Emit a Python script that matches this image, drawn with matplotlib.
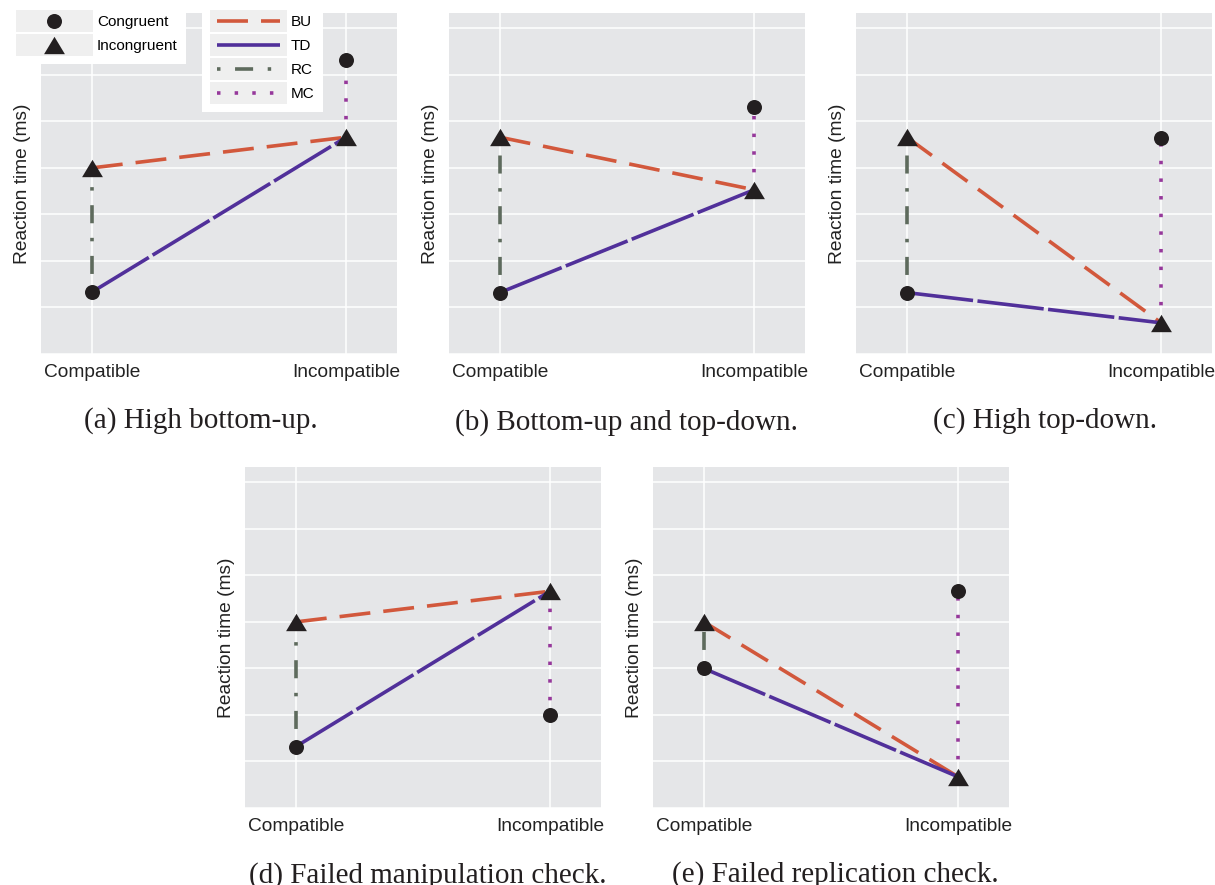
import numpy as np
import matplotlib
matplotlib.use('Agg')
import matplotlib.pyplot as plt
from matplotlib.lines import Line2D
from matplotlib.patches import Rectangle
from matplotlib.legend_handler import HandlerBase

plt.rcParams['font.family'] = ['Liberation Sans', 'DejaVu Sans']
plt.rcParams['lines.scale_dashes'] = False

# x categories
conditions = ['Compatible', 'Incompatible']
captions = ['(a) High bottom-up.', '(b) Bottom-up and top-down.', '(c) High top-down.',
            '(d) Failed manipulation check.', '(e) Failed replication check.']

# reaction times (arbitrary units), [compatible, incompatible]
congruent_rt = [[1.33, 6.31], [1.32, 5.32], [1.32, 4.65], [1.32, 2.00], [3.00, 4.66]]
incongruent_rt = [[4.00, 4.66], [4.66, 3.53], [4.66, 0.67], [4.00, 4.66], [4.00, 0.67]]

W, H = 1215, 885
BG = '#E5E6E8'
CELL = '#EFEFEF'
INK = '#231F20'
BU_C, TD_C, RC_C, MC_C = '#D2583C', '#51309A', '#5E6B5D', '#96389B'
LW = 2.6
BU_D = (22.3, 9.4)
TD_D = (48, 3.2)
RC_D = (2.5, 10.5, 13, 10.5)
MC_D = (2.5, 10.2)
TRI = [(-1.2, -1), (1.2, -1), (0, 1)]

fig = plt.figure(figsize=(W / 100, H / 100), dpi=100)

# axes boxes in pixels: left, top
boxes = [(41, 13), (449, 13), (856, 13), (245, 467), (653, 467)]
AW, AH = 356, 341
cap_pos = [(201, 421), (626, 423), (1045, 421), (428, 876), (835, 875)]

for i, (l, t) in enumerate(boxes):
    ax = fig.add_axes([l / W, 1 - (t + AH) / H, AW / W, AH / H])
    ax.set_facecolor(BG)
    for s in ax.spines.values():
        s.set_visible(False)
    cong = congruent_rt[i]
    inc = incongruent_rt[i]
    ax.plot([0, 1], [inc[0], inc[1]], color=BU_C, lw=LW, dashes=BU_D, zorder=2)
    ax.plot([0, 1], [cong[0], inc[1]], color=TD_C, lw=LW, dashes=TD_D, zorder=2)
    ax.plot([0, 0], [cong[0], inc[0]], color=RC_C, lw=LW, dashes=RC_D, zorder=2)
    ax.plot([1, 1], [inc[1], cong[1]], color=MC_C, lw=LW, dashes=MC_D, zorder=2)
    ax.plot([0, 1], cong, ls='none', marker='o', ms=10.8, mew=0, color=INK, zorder=3)
    ax.plot([0, 1], inc, ls='none', marker=TRI, ms=15, mew=0, color=INK, zorder=3)
    ax.set_xlim(-0.2, 1.2)
    ax.set_ylim(0, 7.33)
    ax.set_xticks([0, 1])
    ax.set_xticklabels(conditions, fontsize=13.8, color='#222222')
    ax.set_yticks(range(0, 8))
    ax.set_yticklabels([])
    ax.tick_params(length=0, pad=7)
    ax.grid(True, color='white', lw=1.1)
    ax.set_axisbelow(True)
    ax.set_ylabel('Reaction time (ms)', fontsize=13.8, color='#222222')
    ax.yaxis.set_label_coords(-10 / AW, 0.5)
    fig.text(cap_pos[i][0] / W, 1 - cap_pos[i][1] / H, captions[i], ha='center', va='center',
             family='Liberation Serif', fontsize=21, color=INK)


class CellHandler(HandlerBase):
    # grey cell behind each legend handle
    def create_artists(self, legend, orig_handle, xdescent, ydescent, width, height, fontsize, trans):
        x0, y0 = -xdescent, -ydescent
        cell = Rectangle((x0, y0), width, height, facecolor=CELL, edgecolor='none', transform=trans)
        yc = y0 + height / 2
        ln = Line2D([], [])
        ln.update_from(orig_handle)
        if orig_handle.get_marker() not in (None, 'None', 'none', ''):
            ln.set_data([x0 + width / 2], [yc])
        else:
            inset = 5.04
            ln.set_data([x0 + inset, x0 + width - inset], [yc, yc])
        ln.set_transform(trans)
        return [cell, ln]


leg_kw = dict(fontsize=11, handlelength=5.04, handleheight=1.838, labelspacing=0.13,
              handletextpad=0.26, borderpad=0.52, borderaxespad=0, loc='upper left',
              fancybox=False, framealpha=1, facecolor='white', edgecolor='white',
              bbox_transform=fig.transFigure, handler_map={Line2D: CellHandler()})

mark_handles = [Line2D([], [], ls='none', marker='o', ms=10.8, mew=0, color=INK),
                Line2D([], [], ls='none', marker=TRI, ms=15, mew=0, color=INK)]
leg1 = fig.legend(mark_handles, ['Congruent', 'Incongruent'], bbox_to_anchor=(8 / W, 1 - 2 / H), **leg_kw)
leg1.get_frame().set_linewidth(0)

line_handles = [Line2D([], [], color=BU_C, lw=LW, dashes=BU_D),
                Line2D([], [], color=TD_C, lw=LW, dashes=TD_D),
                Line2D([], [], color=RC_C, lw=LW, dashes=RC_D),
                Line2D([], [], color=MC_C, lw=LW, dashes=MC_D)]
leg2 = fig.legend(line_handles, ['BU', 'TD', 'RC', 'MC'], bbox_to_anchor=(202 / W, 1 - 2 / H), **leg_kw)
leg2.get_frame().set_linewidth(0)

fig.savefig('out.png', dpi=100, facecolor='white')
